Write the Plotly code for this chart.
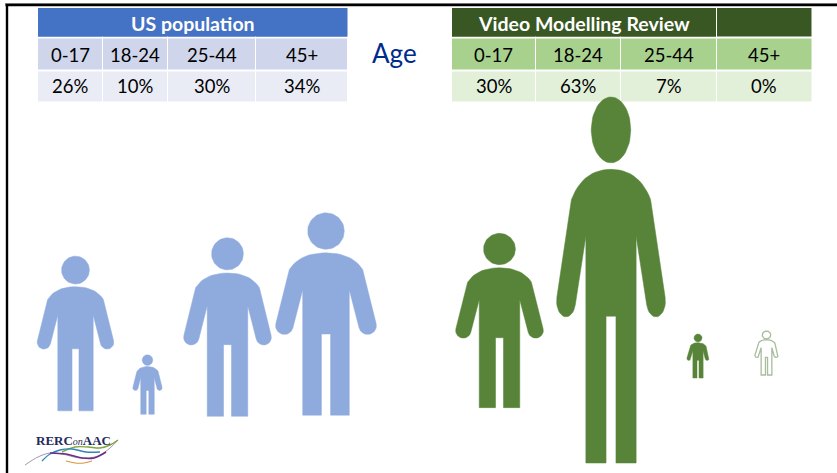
import numpy as np
import plotly.graph_objects as go

# ---------- data ----------
age_groups = ["0-17", "18-24", "25-44", "45+"]
us_title = "US population"
us_share = [26, 10, 30, 34]
review_title = "Video Modelling Review"
review_share = [30, 63, 7, 0]
middle_label = "Age"

# ---------- layout of the panels (page pixels) ----------
W, H = 837, 473
US_COL_EDGES = [38, 102.5, 167.5, 255.5, 347.5]
RV_COL_EDGES = [452, 535.5, 620.5, 716.5, 812]
ROW_EDGES = [8, 37.5, 70.5, 101.5]
US_COLORS = ["#4472C4", "#CFD5EA", "#E9EBF5"]
RV_COLORS = ["#385723", "#A9D18E", "#E2F0D9"]
US_FIG = dict(cx=[75.5, 147.5, 227.5, 326], cy=[333.5, 384.5, 327, 314], w=[76, 29, 87, 100], scale=5.95)
RV_FIG = dict(cx=[499.5, 611, 698, 766.5], cy=[320.5, 280, 356, 353], w=[87, 108, 22, 23], scale=5.81)
MIN_FIG_H = 44
BLUE, GREEN = "#8FAADC", "#58843A"
FONT = "Lato"


def person_outline():
    """Unit pictogram: u in [-0.5, 0.5], t in [0, 1] from the head top down."""
    top, hgt, wid = 112.0, 536.0, 262.0
    def q(p0, c, p1, n=14):
        s = np.linspace(0, 1, n)[:, None]
        return (1 - s) ** 2 * np.array(p0) + 2 * s * (1 - s) * np.array(c) + s ** 2 * np.array(p1)
    shoulder = q((0, 218), (68, 218), (96, 262))
    a = np.linspace(np.radians(-14), np.radians(166), 18)
    hand = np.c_[109 + 23 * np.cos(a), 411 + 23 * np.sin(a)]
    rest = np.array([(61, 316), (61, 648), (12, 648), (12, 433)], float)
    right = np.vstack([shoulder, hand, rest])
    left = right[::-1] * [-1, 1]
    body = np.vstack([right, left])
    return body[:, 0] / wid, (body[:, 1] - top) / hgt


BODY_U, BODY_T = person_outline()
_th = np.linspace(0, 2 * np.pi, 60)
HEAD_U, HEAD_T = 0.183 * np.cos(_th), 0.09 + 0.09 * np.sin(_th)

fig = go.Figure()


def add_person(value, name, cx, cy, w, scale, color, hollow=False):
    h = max(value * scale, MIN_FIG_H)
    top = cy - h / 2
    xs = list(cx + BODY_U * w) + [None] + list(cx + HEAD_U * w)
    ys = list(top + BODY_T * h) + [None] + list(top + HEAD_T * h)
    line = dict(color="#A9BC9C", width=1.3) if hollow else dict(color=color, width=0.5)
    fig.add_trace(go.Scatter(x=xs, y=ys, mode="lines", fill="toself", line=line,
                             fillcolor="#FFFFFF" if hollow else color,
                             name=name, hoverinfo="name", showlegend=False))


def add_table(edges, colors):
    for r in range(3):
        for c in range(4):
            fig.add_shape(type="rect", x0=edges[c] + (0.5 if c else 0), x1=edges[c + 1] - 0.5,
                          y0=ROW_EDGES[r] + (1 if r else 0),
                          y1=ROW_EDGES[r + 1] - 1 if r < 2 else ROW_EDGES[r + 1],
                          fillcolor=colors[r], line=dict(width=0), layer="below")


for edges, colors, values in [(US_COL_EDGES, US_COLORS, us_share),
                              (RV_COL_EDGES, RV_COLORS, review_share)]:
    add_table(edges, colors)
    for c, (g, v) in enumerate(zip(age_groups, values)):
        xm = (edges[c] + edges[c + 1]) / 2
        fig.add_annotation(x=xm, y=55, text=g, showarrow=False, font=dict(family=FONT, size=18.5, color="#000000"))
        fig.add_annotation(x=xm, y=86, text=f"{v}%", showarrow=False, font=dict(family=FONT, size=18.5, color="#000000"))

# merged part of the header rows
fig.add_shape(type="rect", x0=38, x1=347.5, y0=8, y1=36.5, fillcolor=US_COLORS[0], line=dict(width=0), layer="below")
fig.add_shape(type="rect", x0=452, x1=716, y0=8, y1=36.5, fillcolor=RV_COLORS[0], line=dict(width=0), layer="below")
fig.add_annotation(x=192.5, y=23, text=f"<b>{us_title}</b>", showarrow=False,
                   font=dict(family=FONT, size=19.5, color="#FFFFFF"))
fig.add_annotation(x=583.5, y=23, text=f"<b>{review_title}</b>", showarrow=False,
                   font=dict(family=FONT, size=19.5, color="#FFFFFF"))
fig.add_annotation(x=394, y=53, text=middle_label, showarrow=False,
                   font=dict(family=FONT, size=26, color="#002A8C"))

for i, v in enumerate(us_share):
    add_person(v, age_groups[i], US_FIG["cx"][i], US_FIG["cy"][i], US_FIG["w"][i], US_FIG["scale"], BLUE)
for i, v in enumerate(review_share):
    add_person(v, age_groups[i], RV_FIG["cx"][i], RV_FIG["cy"][i], RV_FIG["w"][i], RV_FIG["scale"], GREEN, hollow=(v == 0))

# slide frame
fig.add_shape(type="line", x0=5, x1=W, y0=3.5, y1=3.5, line=dict(color="#9A9A9A", width=1))
fig.add_shape(type="line", x0=5.5, x1=W, y0=5, y1=5, line=dict(color="#000000", width=2.4))
fig.add_shape(type="line", x0=7, x1=7, y0=4, y1=H, line=dict(color="#000000", width=2.4))

# logo
fig.add_annotation(x=73.5, y=440, text="<b>RERC</b><i><span style='font-size:10px'>on</span></i><b>AAC</b>", showarrow=False,
                   font=dict(family="Liberation Serif", size=13, color="#1F2A5C"))
LOGO_WAVES = [
    ([25, 38, 50, 62, 80, 98, 110, 118], [465, 457, 453, 454, 458, 456, 448, 440], "#8E7BA0", 0.8),
    ([62, 75, 88, 100, 110, 118], [452, 447, 447, 448, 445, 440], "#7FA63C", 1.4),
    ([42, 50, 60, 72, 86, 100], [461, 454, 450, 449, 452, 452], "#2E86B8", 1.4),
    ([50, 66, 82, 94, 106], [453, 454, 458, 458, 452], "#6B2E86", 1.6),
    ([66, 75, 84, 92], [461, 463, 463, 461], "#D9963A", 1.1),
]
for xs, ys, col, lw in LOGO_WAVES:
    fig.add_trace(go.Scatter(x=xs, y=ys, mode="lines", line=dict(color=col, width=lw, shape="spline"),
                             hoverinfo="skip", showlegend=False))

fig.update_xaxes(range=[0, W], visible=False, fixedrange=True)
fig.update_yaxes(range=[H, 0], visible=False, fixedrange=True)
fig.update_layout(width=W, height=H, margin=dict(l=0, r=0, t=0, b=0),
                  paper_bgcolor="#FFFFFF", plot_bgcolor="#FFFFFF", showlegend=False)
fig.write_html("out.html", config=dict(displayModeBar=False),
               post_script="document.body.style.margin='0';document.documentElement.style.overflow='hidden';")
